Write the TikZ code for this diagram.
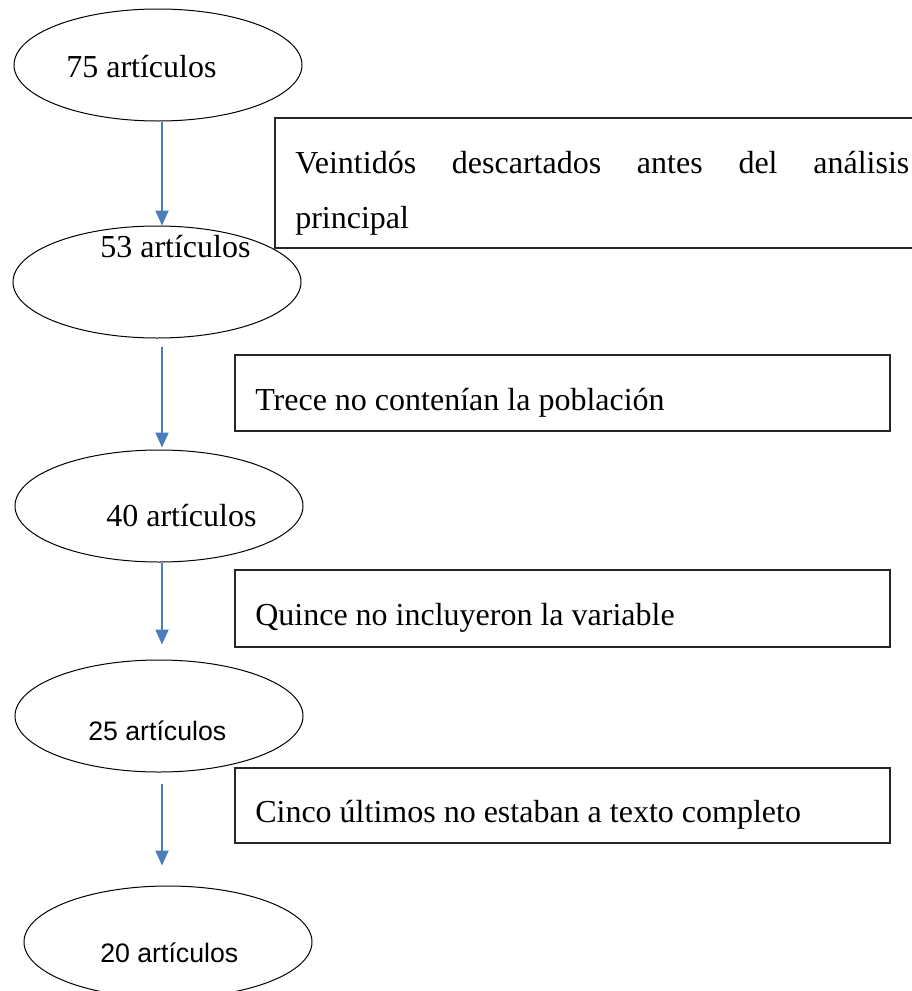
\documentclass[tikz,border=0pt]{standalone}
\usepackage{fontspec}
\setmainfont{Liberation Serif}
\setsansfont{Liberation Sans}
\usepackage{tikz}
\usetikzlibrary{shapes.geometric,arrows.meta,positioning,calc}
\definecolor{azul}{RGB}{74,126,187}

\begin{document}
\begin{tikzpicture}[x=1pt, y=-1pt, >={Triangle[width=13pt,length=15pt]}, semithick]
	\tikzstyle{elipse}=[ellipse,draw=black,line width=1pt,minimum width=288pt,minimum height=112pt,inner sep=0pt]
	\tikzstyle{caja}=[rectangle,draw=black!85,line width=1.3pt,inner sep=0pt,minimum width=655pt]
	\tikzstyle{serif}=[font=\fontsize{32}{55}\selectfont,inner sep=0pt,anchor=base west]
	\tikzstyle{sans}=[font=\sffamily\fontsize{26.7}{32}\selectfont,inner sep=0pt,anchor=base west]
	\tikzstyle{flecha}=[->,draw=azul,fill=azul,line width=2pt]
	\useasboundingbox (0,0) rectangle (912,991);
	\clip (0,0) rectangle (912,991);
	% articulos
	\node[elipse]   (E1) at (158,65)  {};
	\node[elipse]   (E2) at (157,282) {};
	\node[elipse]   (E3) at (159,506) {};
	\node[elipse]   (E4) at (159,716) {};
	\node[elipse]   (E5) at (168,942) {};
	\node[serif]    (T1) at (66,77)   {75 artículos};
	\node[serif]    (T2) at (100,257) {53 artículos};
	\node[serif]    (T3) at (106,526) {40 artículos};
	\node[sans]     (T4) at (88,740)  {25 artículos};
	\node[sans]     (T5) at (100,962) {20 artículos};
	% descartados
	\node[caja, minimum height=130pt] (C1) at (602.5,183) {};
	\node[caja, minimum height=76pt]  (C2) at (562.5,393) {};
	\node[caja, minimum height=77pt]  (C3) at (562.5,608.5) {};
	\node[caja, minimum height=75pt]  (C4) at (562.5,805.5) {};
	\node[serif, text width=614pt, align=justify] (L1) at (295,173)
		{Veintidós descartados antes del análisis\linebreak principal};
	\node[serif]    (L2) at (255,410) {Trece no contenían la población};
	\node[serif]    (L3) at (255,625) {Quince no incluyeron la variable};
	\node[serif]    (L4) at (255,822) {Cinco últimos no estaban a texto completo};
	% flechas
	\draw[flecha] ([xshift=4pt]E1.south) -- ([xshift=4pt]E1.south |- E2.north);
	\draw[flecha, shorten <=8pt, shorten >=2pt] ([xshift=5pt]E2.south) -- ([xshift=5pt]E2.south |- E3.north);
	\draw[flecha, shorten >=15pt] ([xshift=3pt]E3.south) -- ([xshift=3pt]E3.south |- E4.north);
	\draw[flecha, shorten <=11pt, shorten >=20pt] ([xshift=3pt]E4.south) -- ([xshift=3pt]E4.south |- E5.north);
\end{tikzpicture}
\end{document}
